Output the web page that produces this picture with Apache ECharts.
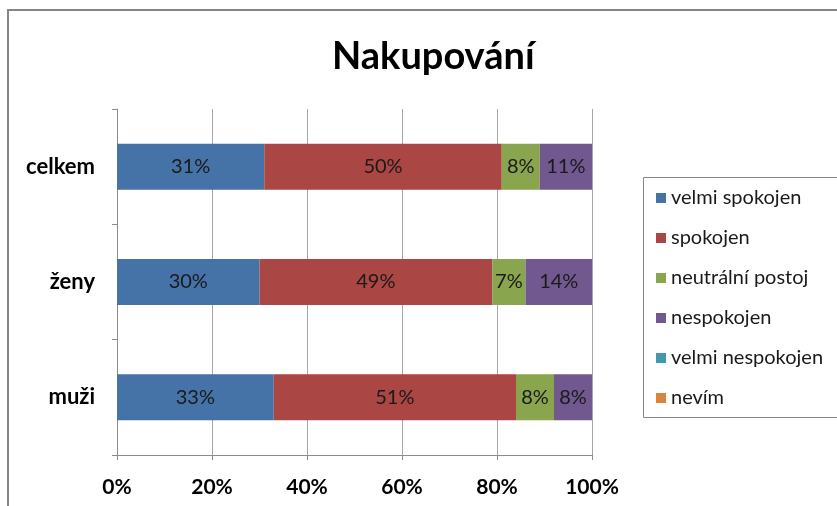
<!DOCTYPE html>
<html>
<head>
<meta charset="utf-8">
<script src="https://cdn.jsdelivr.net/npm/echarts@6/dist/echarts.min.js"></script>
<style>
    html, body { margin: 0; padding: 0; background: #fff; }
    #chart { width: 837px; height: 506px; }
</style>
</head>
<body>
<div id="chart"></div>
<script>
// kategorie odspodu nahoru, jak je kreslí osa
const categories = ['muži', 'ženy', 'celkem'];
const seriesNames = ['velmi spokojen', 'spokojen', 'neutrální postoj', 'nespokojen', 'velmi nespokojen', 'nevím'];
const velmiSpokojen = [33, 30, 31];
const spokojen = [51, 49, 50];
const neutralni = [8, 7, 8];
const nespokojen = [8, 14, 11];
const velmiNespokojen = [0, 0, 0];
const nevim = [0, 0, 0];
const xTicks = [0, 20, 40, 60, 80, 100];

const colors = ['#4572A7', '#AA4643', '#89A54E', '#71588F', '#4198AF', '#DB843D'];
const values = [velmiSpokojen, spokojen, neutralni, nespokojen, velmiNespokojen, nevim];

const chart = echarts.init(document.getElementById('chart'));

const series = [];
for (let i = 0; i < seriesNames.length; i++) {
    series.push({
        name: seriesNames[i],
        type: 'bar',
        stack: 'total',
        barWidth: 46,
        itemStyle: { color: colors[i] },
        label: {
            show: true,
            position: 'inside',
            color: '#1a1a1a',
            fontFamily: 'Lato',
            fontSize: 20,
            formatter: (p) => p.value > 0 ? p.value + '%' : ''
        },
        data: values[i]
    });
}

chart.setOption({
    animation: false,
    color: colors,
    title: {
        text: 'Nakupování',
        left: 327,
        top: 33,
        textStyle: { fontFamily: 'Lato', fontWeight: 'bold', fontSize: 38, color: '#000' }
    },
    legend: {
        orient: 'vertical',
        left: 651,
        top: 183,
        icon: 'rect',
        itemWidth: 10,
        itemHeight: 10,
        itemGap: 20,
        textStyle: { fontFamily: 'Lato', fontSize: 20, color: '#1a1a1a', lineHeight: 20 },
        data: seriesNames
    },
    graphic: [
        {
            type: 'rect',
            shape: { x: 8, y: 10, width: 900, height: 600 },
            style: { fill: 'none', stroke: '#868686', lineWidth: 2 },
            silent: true
        },
        {
            type: 'rect',
            shape: { x: 643.5, y: 177.5, width: 260, height: 240 },
            style: { fill: 'none', stroke: '#868686', lineWidth: 1 },
            silent: true
        }
    ],
    grid: { left: 117, right: 245, top: 109, bottom: 51, containLabel: false },
    xAxis: {
        type: 'value',
        min: 0,
        max: 100,
        interval: 20,
        axisLine: { show: true, lineStyle: { color: '#8c8c8c' } },
        axisTick: { show: true, length: 5, lineStyle: { color: '#8c8c8c' } },
        splitLine: { show: true, lineStyle: { color: '#a6a6a6' } },
        axisLabel: {
            margin: 22,
            fontFamily: 'Lato',
            fontWeight: 'bold',
            fontSize: 21,
            color: '#000',
            formatter: (v) => xTicks.includes(v) ? v + '%' : ''
        }
    },
    yAxis: {
        type: 'category',
        data: categories,
        axisLine: { show: true, lineStyle: { color: '#8c8c8c' } },
        axisTick: { show: true, length: 5, lineStyle: { color: '#8c8c8c' } },
        axisLabel: {
            margin: 22,
            fontFamily: 'Lato',
            fontWeight: 'bold',
            fontSize: 22,
            color: '#000'
        }
    },
    series: series
});
</script>
</body>
</html>
